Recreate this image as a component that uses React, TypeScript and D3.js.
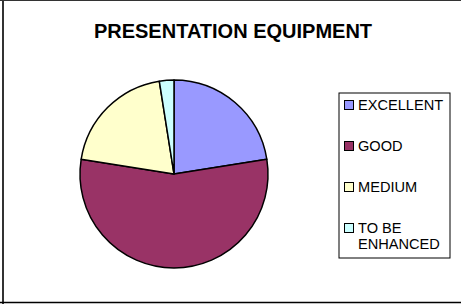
import React, { useEffect, useRef } from 'react';
import * as d3 from 'd3';

const categories = ['EXCELLENT', 'GOOD', 'MEDIUM', 'TO BE ENHANCED'];
const legendLines = [['EXCELLENT'], ['GOOD'], ['MEDIUM'], ['TO BE', 'ENHANCED']];
const values = [9, 22, 8, 1];
const colors = ['#9999FF', '#993366', '#FFFFCC', '#CCFFFF'];
const title = 'PRESENTATION EQUIPMENT';

export default function App() {
  const ref = useRef<SVGSVGElement>(null);

  useEffect(() => {
    const width = 461;
    const height = 304;
    const svg = d3.select(ref.current);
    svg.selectAll('*').remove();

    svg.attr('width', width).attr('height', height);
    svg.append('rect').attr('width', width).attr('height', height).attr('fill', '#fff');

    // frame lines (left, top, bottom)
    svg.append('line').attr('x1', 3).attr('x2', 3).attr('y1', 0).attr('y2', height)
      .attr('stroke', '#333').attr('stroke-width', 2);
    svg.append('line').attr('x1', 0).attr('x2', width).attr('y1', 0.5).attr('y2', 0.5)
      .attr('stroke', '#333').attr('stroke-width', 1);
    svg.append('line').attr('x1', 0).attr('x2', width).attr('y1', 302.5).attr('y2', 302.5)
      .attr('stroke', '#000').attr('stroke-width', 1.5);

    svg.append('text')
      .attr('x', 233)
      .attr('y', 38)
      .attr('text-anchor', 'middle')
      .attr('font-family', 'Liberation Sans, Arial, sans-serif')
      .attr('font-weight', 'bold')
      .attr('font-size', 20)
      .text(title);

    const color = d3.scaleOrdinal<string, string>().domain(categories).range(colors);
    const radius = 94;
    const pie = d3.pie<number>().sort(null).value((d) => d);
    const arc = d3.arc<d3.PieArcDatum<number>>().innerRadius(0).outerRadius(radius);

    const g = svg.append('g').attr('transform', 'translate(174,174)');
    g.selectAll('path')
      .data(pie(values))
      .enter()
      .append('path')
      .attr('d', arc)
      .attr('fill', (d, i) => color(categories[i]))
      .attr('stroke', '#000')
      .attr('stroke-width', 1.5)
      .attr('stroke-linejoin', 'round');

    // legend
    const legend = svg.append('g');
    legend.append('rect')
      .attr('x', 339).attr('y', 93).attr('width', 111).attr('height', 165)
      .attr('fill', '#fff').attr('stroke', '#000').attr('stroke-width', 1);

    const rowY = d3.scalePoint<string>().domain(categories).range([110, 233]);
    categories.forEach((c, i) => {
      const y = rowY(c) as number;
      legend.append('rect')
        .attr('x', 344.5).attr('y', y - 9.5).attr('width', 9).attr('height', 9)
        .attr('fill', color(c)).attr('stroke', '#000').attr('stroke-width', 1);
      const t = legend.append('text')
        .attr('x', 358).attr('y', y)
        .attr('font-family', 'Liberation Sans, Arial, sans-serif')
        .attr('font-size', 14.6);
      legendLines[i].forEach((line, j) => {
        t.append('tspan').attr('x', 358).attr('dy', j === 0 ? 0 : 16).text(line);
      });
    });
  }, []);

  return <svg ref={ref} style={{ position: 'absolute', left: 0, top: 0 }} />;
}
